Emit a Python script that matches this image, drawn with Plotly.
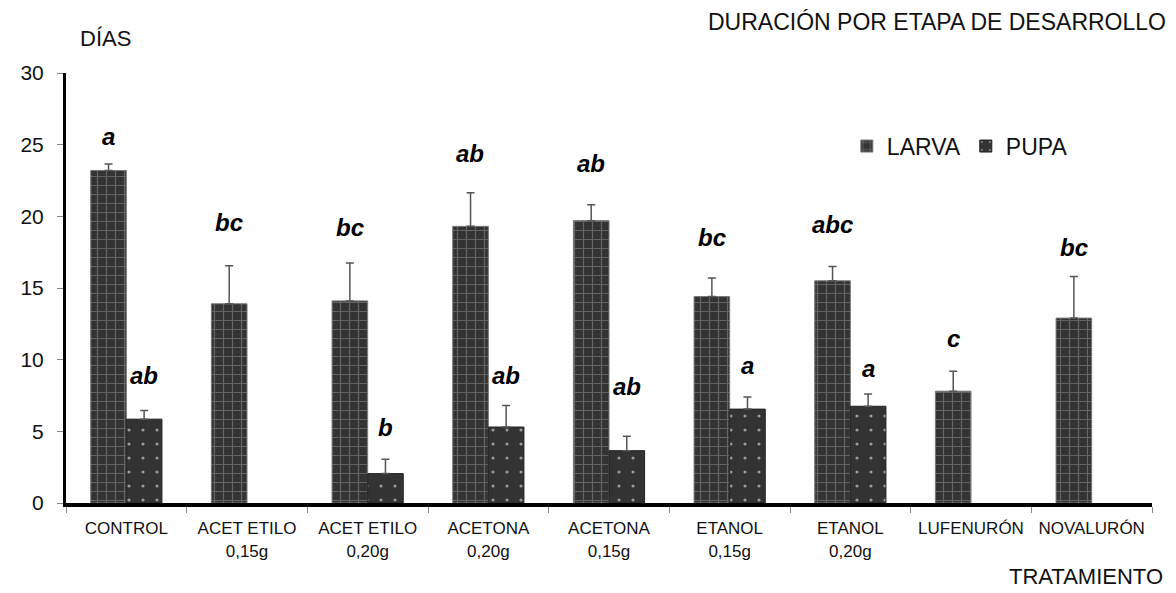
import plotly.graph_objects as go

categories = ["CONTROL", "ACET ETILO<br>0,15g", "ACET ETILO<br>0,20g", "ACETONA<br>0,20g",
              "ACETONA<br>0,15g", "ETANOL<br>0,15g", "ETANOL<br>0,20g", "LUFENURÓN", "NOVALURÓN"]
larva = [23.2, 13.9, 14.1, 19.3, 19.7, 14.4, 15.5, 7.8, 12.9]
larva_err = [0.45, 2.65, 2.65, 2.35, 1.1, 1.3, 1.0, 1.4, 2.9]
pupa = [5.85, None, 2.05, 5.3, 3.65, 6.55, 6.75, None, None]
pupa_err = [0.6, 0, 1.0, 1.5, 1.0, 0.85, 0.85, 0, 0]
larva_letters = ["a", "bc", "bc", "ab", "ab", "bc", "abc", "c", "bc"]
larva_letter_y = [25.6, 19.6, 19.2, 24.4, 23.7, 18.5, 19.4, 11.5, 17.8]
pupa_letters = ["ab", "", "b", "ab", "ab", "a", "a", "", ""]
pupa_letter_y = [8.9, 0, 5.3, 8.9, 8.1, 9.6, 9.4, 0, 0]

FONT = "Liberation Sans, Arial, sans-serif"

fig = go.Figure()
fig.add_trace(go.Bar(
    name="LARVA", x=categories, y=larva,
    marker=dict(color="#333333", line=dict(color="#777777", width=1),
                pattern=dict(shape="+", fgcolor="#959595", bgcolor="#333333",
                             size=9, solidity=0.25)),
    error_y=dict(type="data", array=larva_err, arrayminus=[0] * len(larva_err),
                 symmetric=False, color="#555555", thickness=1.5, width=4),
))
fig.add_trace(go.Bar(
    name="PUPA", x=categories, y=pupa,
    marker=dict(color="#333333", line=dict(color="#222222", width=1),
                pattern=dict(shape=".", fgcolor="#ffffff", bgcolor="#333333",
                             size=14, solidity=0.04)),
    error_y=dict(type="data", array=pupa_err, arrayminus=[0] * len(pupa_err),
                 symmetric=False, color="#555555", thickness=1.5, width=4),
))

annotations = []
for c, t, yv in zip(categories, larva_letters, larva_letter_y):
    if t:
        annotations.append(dict(x=c, y=yv, text=f"<b><i>{t}</i></b>", showarrow=False,
                                xshift=-18, font=dict(size=24, color="#000000", family=FONT)))
for c, t, yv in zip(categories, pupa_letters, pupa_letter_y):
    if t:
        annotations.append(dict(x=c, y=yv, text=f"<b><i>{t}</i></b>", showarrow=False,
                                xshift=18, font=dict(size=24, color="#000000", family=FONT)))

annotations += [
    dict(xref="paper", yref="paper", x=1.0145, y=1.119, xanchor="right", yanchor="middle",
         text="DURACIÓN POR ETAPA DE DESARROLLO", showarrow=False,
         font=dict(size=23, color="#111111", family=FONT)),
    dict(xref="paper", yref="paper", x=0.011, y=1.081, xanchor="left", yanchor="middle",
         text="DÍAS", showarrow=False, font=dict(size=22, color="#111111", family=FONT)),
    dict(xref="paper", yref="paper", x=1.012, y=-0.172, xanchor="right", yanchor="middle",
         text="TRATAMIENTO", showarrow=False, font=dict(size=22, color="#111111", family=FONT)),
]

fig.update_layout(
    width=1168, height=585,
    margin=dict(l=48, r=24, t=65, b=90),
    paper_bgcolor="white", plot_bgcolor="white",
    barmode="group", bargap=0.41, bargroupgap=0,
    font=dict(family=FONT, color="#111111"),
    showlegend=True,
    legend=dict(orientation="h", x=0.719, y=0.83, xanchor="left", yanchor="middle",
                font=dict(size=23, color="#111111", family=FONT),
                bgcolor="rgba(0,0,0,0)", itemwidth=30),
    annotations=annotations,
)
fig.update_yaxes(range=[0, 30], tickvals=[0, 5, 10, 15, 20, 25, 30],
                 showline=True, linecolor="black", linewidth=3,
                 ticks="outside", ticklen=6, tickcolor="#888888", tickwidth=1,
                 tickfont=dict(size=21, color="#111111", family=FONT),
                 showgrid=False, zeroline=False, ticklabelstandoff=9)
fig.update_xaxes(showline=True, linecolor="black", linewidth=4,
                 ticks="outside", tickson="boundaries", ticklen=6, tickcolor="#888888",
                 tickwidth=1, tickfont=dict(size=17, color="#111111", family=FONT),
                 showgrid=False, zeroline=False, tickangle=0, ticklabelstandoff=7)

fig.write_html("out.html")
